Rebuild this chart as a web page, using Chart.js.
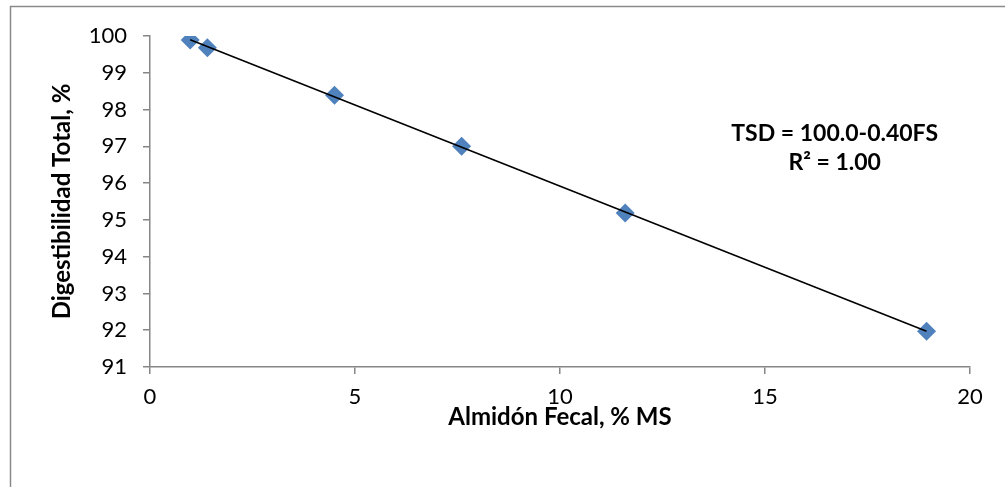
<!DOCTYPE html>
<html>
<head>
<meta charset="utf-8">
<script src="https://cdn.jsdelivr.net/npm/chart.js@4/dist/chart.umd.min.js"></script>
<style>
html,body{margin:0;padding:0;background:#fff;}
canvas{display:block;}
</style>
</head>
<body>
<canvas id="c" width="1005" height="487"></canvas>
<script>
// Data
const fecalStarch = [0.98, 1.40, 4.50, 7.60, 11.59, 18.94];
const totalDigestibility = [99.89, 99.68, 98.39, 97.00, 95.19, 91.97];
const xTicks = [0, 5, 10, 15, 20];
const yTicks = [91, 92, 93, 94, 95, 96, 97, 98, 99, 100];
const equationLines = ['TSD = 100.0-0.40FS', 'R\u00B2 = 1.00'];
const xTitle = 'Almidón Fecal, % MS';
const yTitle = 'Digestibilidad Total, %';

// least squares trendline over the data range
const n = fecalStarch.length;
const mx = fecalStarch.reduce((a, b) => a + b, 0) / n;
const my = totalDigestibility.reduce((a, b) => a + b, 0) / n;
let sxy = 0, sxx = 0;
for (let i = 0; i < n; i++) {
  sxy += (fecalStarch[i] - mx) * (totalDigestibility[i] - my);
  sxx += (fecalStarch[i] - mx) ** 2;
}
const slope = sxy / sxx;
const intercept = my - slope * mx;
const xMin = Math.min(...fecalStarch), xMax = Math.max(...fecalStarch);
const trend = [{x: xMin, y: intercept + slope * xMin}, {x: xMax, y: intercept + slope * xMax}];

const FONT = 'Lato, "Open Sans", sans-serif';
const GRAY = '#868686';

const decor = {
  id: 'decor',
  beforeDraw(chart) {
    const ctx = chart.ctx;
    ctx.save();
    ctx.fillStyle = '#fff';
    ctx.fillRect(0, 0, chart.width, chart.height);
    ctx.strokeStyle = '#8a8a8a';
    ctx.lineWidth = 1.5;
    ctx.strokeRect(10.5, 6.5, 1100, 600);
    ctx.restore();
  },
  afterDatasetsDraw(chart) {
    const ctx = chart.ctx;
    const xs = chart.scales.x, ys = chart.scales.y;
    ctx.save();
    ctx.fillStyle = '#000';
    ctx.font = 'bold 23px ' + FONT;
    ctx.textAlign = 'center';
    ctx.textBaseline = 'middle';
    const cx = xs.getPixelForValue(16.7);
    ctx.fillText(equationLines[0], cx, ys.getPixelForValue(97.36));
    ctx.fillText(equationLines[1], cx, ys.getPixelForValue(96.57));
    ctx.restore();
  }
};

new Chart(document.getElementById('c'), {
  type: 'scatter',
  data: {
    datasets: [
      {
        label: 'Trend',
        type: 'line',
        data: trend,
        borderColor: '#000',
        borderWidth: 1.6,
        pointRadius: 0,
        fill: false,
        order: 0
      },
      {
        label: 'Data',
        data: fecalStarch.map((x, i) => ({x, y: totalDigestibility[i]})),
        pointStyle: 'rectRot',
        pointRadius: 9.5,
        pointBackgroundColor: '#4F81BD',
        pointBorderColor: '#4F81BD',
        pointBorderWidth: 0,
        order: 1
      }
    ]
  },
  options: {
    responsive: false,
    animation: false,
    devicePixelRatio: 1,
    layout: {padding: {left: 10, right: 35, top: 36, bottom: 10}},
    plugins: {legend: {display: false}, tooltip: {enabled: false}},
    scales: {
      x: {
        type: 'linear',
        min: 0, max: 20,
        afterBuildTicks(s) { s.ticks = xTicks.map(v => ({value: v})); },
        afterFit(s) { s.height = 110; },
        grid: {drawOnChartArea: false, tickLength: 7, color: GRAY, lineWidth: 1.5},
        border: {display: true, color: GRAY, width: 1.5},
        ticks: {color: '#000', font: {family: FONT, size: 22}, padding: 10, maxRotation: 0},
        title: {display: true, text: xTitle, color: '#000', font: {family: FONT, size: 24, weight: 'bold'}, padding: {top: 0, bottom: 45}}
      },
      y: {
        type: 'linear',
        min: 91, max: 100,
        afterBuildTicks(s) { s.ticks = yTicks.map(v => ({value: v})); },
        afterFit(s) { s.width = 140; },
        grid: {drawOnChartArea: false, tickLength: 7, color: GRAY, lineWidth: 1.5},
        border: {display: true, color: GRAY, width: 1.5},
        ticks: {color: '#000', font: {family: FONT, size: 22}, padding: 16},
        title: {display: true, text: yTitle, color: '#000', font: {family: FONT, size: 24, weight: 'bold'}, padding: {top: 38, bottom: 0}}
      }
    }
  },
  plugins: [decor]
});
</script>
</body>
</html>
